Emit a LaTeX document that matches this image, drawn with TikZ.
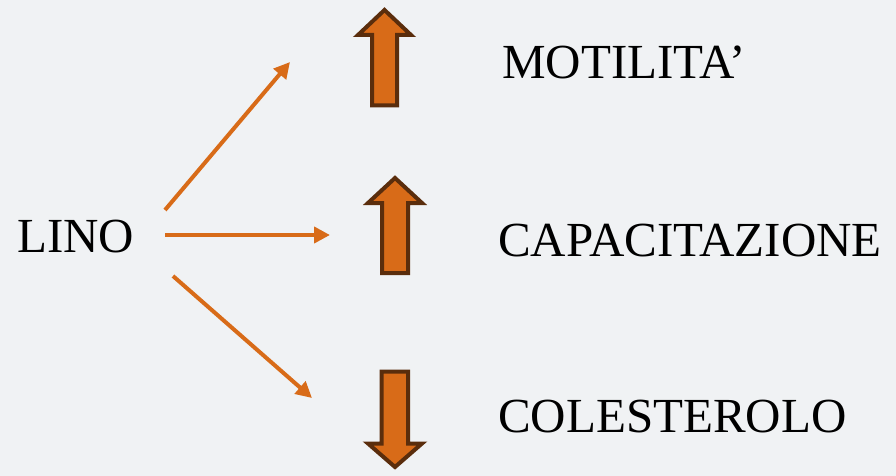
\documentclass[tikz,border=0pt]{standalone}
\usepackage{fontspec}
\setmainfont{Liberation Serif}
\usetikzlibrary{arrows.meta}
\definecolor{bgc}{HTML}{F0F2F4}
\definecolor{org}{HTML}{D86B18}
\definecolor{brn}{HTML}{5A2D0C}
\begin{document}
\begin{tikzpicture}[x=1pt,y=-1pt,
  lbl/.style={anchor=base west,inner sep=0pt,font=\fontsize{49}{56}\selectfont,text=black},
  thin/.style={draw=org,line width=4pt,-{Triangle[length=16pt,width=16pt]}},
  fat/.style={fill=org,draw=brn,line width=4pt,line join=miter}]
\fill[bgc] (0,0) rectangle (896,476);
\useasboundingbox (0,0) rectangle (896,476);
% labels
\node[lbl] (lino) at (17,252) {LINO};
\node[lbl] (mot) at (502,79) {MOTILITA’};
\node[lbl] (cap) at (498,256) {CAPACITAZIONE};
\node[lbl] (col) at (498,432) {COLESTEROLO};
% thin arrows
\coordinate (s1) at (165,210);
\coordinate (e1) at (290,62);
\coordinate (s2) at (165,235);
\coordinate (e2) at (330,235);
\coordinate (s3) at (173,276);
\coordinate (e3) at (312,398);
\draw[thin] (s1) -- (e1);
\draw[thin] (s2) -- (e2);
\draw[thin] (s3) -- (e3);
% fat arrows
\draw[fat] (384.5,10) -- (411,35) -- (397,35) -- (397,105.5) -- (372,105.5) -- (372,35) -- (358,35) -- cycle;
\draw[fat] (395,178) -- (422,203) -- (408,203) -- (408,273) -- (382,273) -- (382,203) -- (368,203) -- cycle;
\draw[fat] (395,467) -- (422,443.5) -- (408,443.5) -- (408,371.5) -- (381.5,371.5) -- (381.5,443.5) -- (368,443.5) -- cycle;
\end{tikzpicture}
\end{document}
